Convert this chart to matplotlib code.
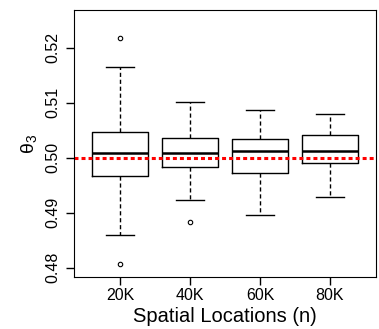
import matplotlib.pyplot as plt

plt.rcParams['font.family'] = ['Liberation Sans', 'DejaVu Sans']
plt.rcParams['mathtext.fontset'] = 'custom'
plt.rcParams['mathtext.rm'] = 'Liberation Sans'

labels = ["20K", "40K", "60K", "80K"]
medians = [0.5008, 0.5008, 0.5013, 0.5012]
q1 = [0.4966, 0.4984, 0.4972, 0.4991]
q3 = [0.5047, 0.5035, 0.5034, 0.5041]
whislo = [0.4860, 0.4923, 0.4895, 0.4929]
whishi = [0.5164, 0.5102, 0.5087, 0.5079]
outliers = [[0.5218, 0.4807], [0.4884], [], []]
true_value = 0.50

stats = []
for i in range(len(labels)):
    stats.append({"med": medians[i], "q1": q1[i], "q3": q3[i],
                  "whislo": whislo[i], "whishi": whishi[i],
                  "fliers": outliers[i], "label": labels[i]})

fig = plt.figure(figsize=(3.79, 3.29), dpi=100)
ax = fig.add_axes([0.1953, 0.158, 0.797, 0.8116])

ax.bxp(stats, positions=[1, 2, 3, 4], widths=0.8,
       boxprops=dict(color="black", linewidth=1),
       medianprops=dict(color="black", linewidth=1.8),
       whiskerprops=dict(color="black", linewidth=1, linestyle=(0, (3, 2))),
       capprops=dict(color="black", linewidth=1),
       flierprops=dict(marker="o", markersize=3.2, markerfacecolor="none",
                       markeredgecolor="black", markeredgewidth=0.8))

ax.axhline(true_value, color="red", linewidth=2.2, linestyle=(0, (1.3, 1.0)))

ax.set_xlim(0.34, 4.66)
ax.set_ylim(0.47831, 0.52685)
ax.set_yticks([0.48, 0.49, 0.50, 0.51, 0.52])
ax.set_yticklabels(["0.48", "0.49", "0.50", "0.51", "0.52"], rotation=90, va="center")
ax.tick_params(axis="both", labelsize=11.5, length=6, width=1)
ax.tick_params(axis="x", pad=2)
ax.set_xlabel("Spatial Locations (n)", fontsize=14.5, labelpad=3)
ax.set_ylabel("θ$_3$", fontsize=14, labelpad=4)

fig.savefig("out.png", dpi=100)
